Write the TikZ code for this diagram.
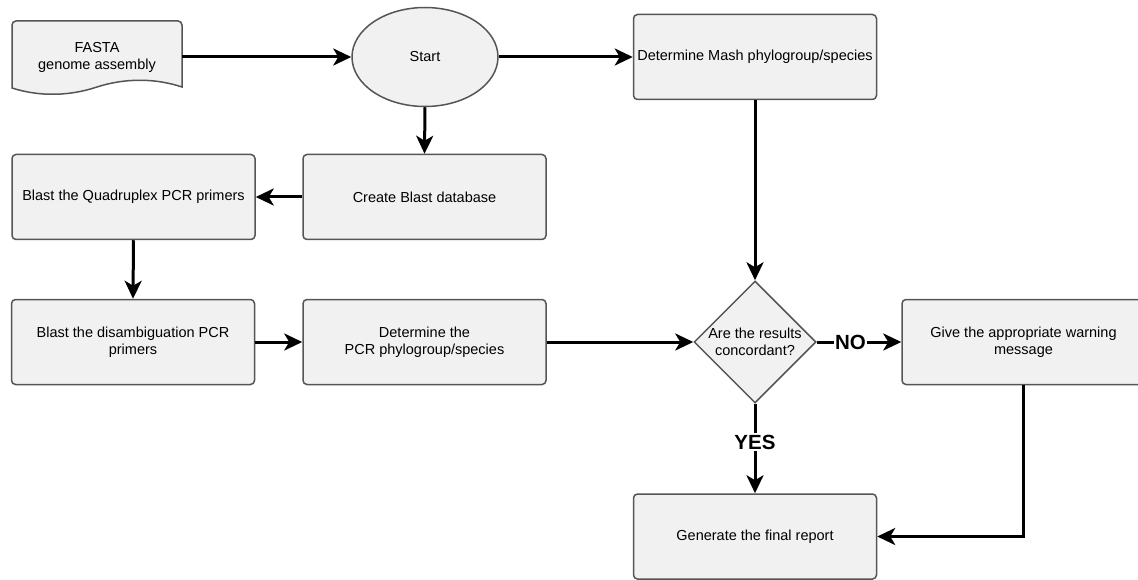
\documentclass[tikz,border=0pt]{standalone}
\usepackage{fontspec}
\setmainfont{Liberation Sans}
\usepackage{tikz}
\usetikzlibrary{arrows.meta}
\usetikzlibrary{shapes.geometric}
\usetikzlibrary{positioning}

\definecolor{boxfill}{HTML}{F1F1F1}
\definecolor{boxline}{HTML}{555555}

\begin{document}
\begin{tikzpicture}[x=1pt, y=-1pt,
    font=\fontsize{14.5}{17}\selectfont,
    stepbox/.style={draw=boxline, fill=boxfill, line width=1.5pt, rounded corners=4pt,
        minimum width=243pt, minimum height=85pt, align=center, inner sep=2pt},
    startbox/.style={ellipse, draw=boxline, fill=boxfill, line width=1.5pt,
        minimum width=146pt, minimum height=99pt, inner sep=0pt},
    decide/.style={diamond, draw=boxline, fill=boxfill, line width=1.5pt,
        minimum width=122pt, minimum height=122pt, aspect=1, inner sep=0pt},
    doctext/.style={minimum width=170pt, minimum height=66pt, inner sep=0pt, align=center},
    flow/.style={-{Stealth[length=18pt, width=17pt, inset=5pt]}, line width=3pt},
    answer/.style={fill=white, font=\fontsize{20.5}{22}\selectfont\bfseries, inner sep=1.5pt}]

    \useasboundingbox (0,0) rectangle (1138,580);

    % Input document
    \draw[draw=boxline, fill=boxfill, line width=1.5pt]
        (12,88) {[rounded corners=4pt] -- (12,21) -- (182,21)} -- (182,87)
        .. controls (155,78) and (125,78) .. (97,87)
        .. controls (70,96) and (40,97) .. (12,88) -- cycle;
    \node[doctext] (fasta) at (97,57) {FASTA\\genome assembly};

    % Steps
    \node[startbox] (start) at (425,57) {Start};
    \node[stepbox] (mash) at (755,57) {Determine Mash phylogroup/species};
    \node[stepbox] (create) at (424.5,197) {Create Blast database};
    \node[stepbox] (quad) at (133.5,197) {Blast the Quadruplex PCR primers};
    \node[stepbox] (disamb) at (133,342) {Blast the disambiguation PCR\\primers};
    \node[stepbox] (pcr) at (424.5,342) {Determine the\\PCR phylogroup/species};
    \node[decide, label={[align=center]center:Are the results\\concordant?}] (concord) at (755,342) {};
    \node[stepbox] (warn) at (1023.5,342) {Give the appropriate warning\\message};
    \node[stepbox] (report) at (755,536.5) {Generate the final report};

    % Connectors
    \draw[flow] (fasta.east) -- (start.west);
    \draw[flow] (start.east) -- (mash.west);
    \draw[flow] (start.south) -- (create.north);
    \draw[flow] (create.west) -- (quad.east);
    \draw[flow] (quad.south) -- (disamb.north);
    \draw[flow] (disamb.east) -- (pcr.west);
    \draw[flow] (pcr.east) -- (concord.west);
    \draw[flow] (mash.south) -- (concord.north);
    \draw[flow] (concord.east) -- node[answer, pos=0.4] (no) {NO} (warn.west);
    \draw[flow] (concord.south) -- node[answer, pos=0.43] (yes) {YES} (report.north);
    \draw[flow] (warn.south) |- (report.east);
\end{tikzpicture}
\end{document}
